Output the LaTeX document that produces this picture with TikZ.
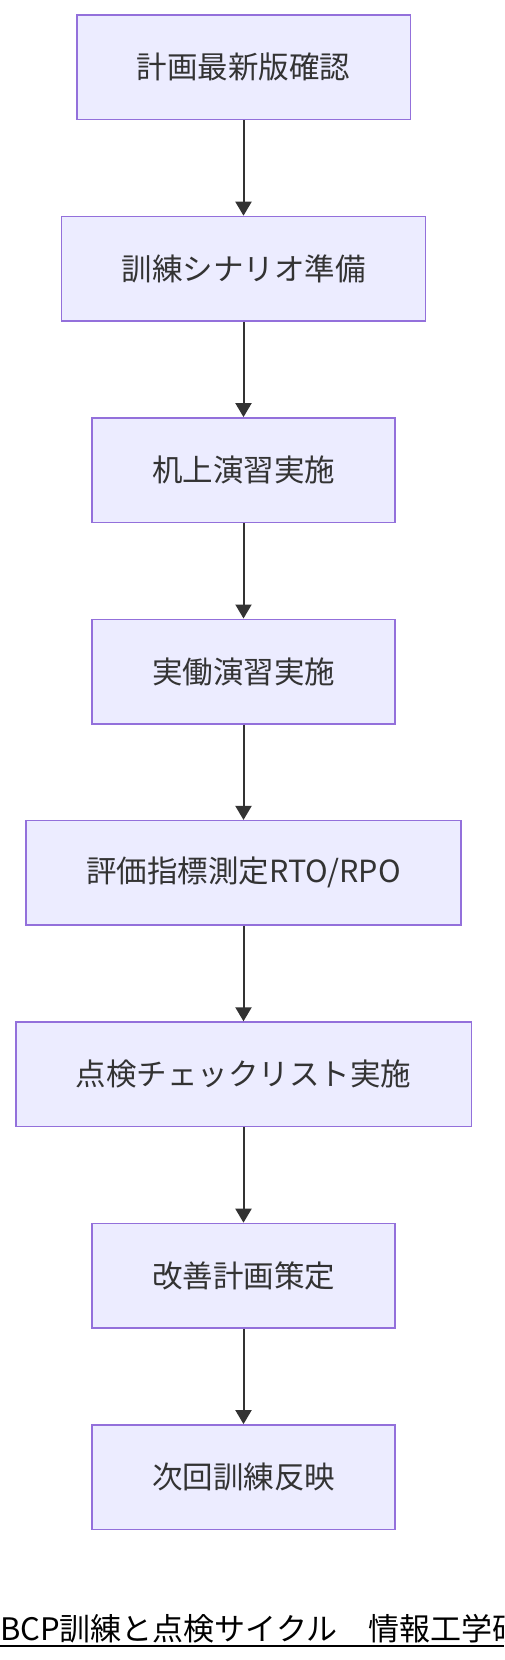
\documentclass[tikz,border=0pt]{standalone}
\usepackage{fontspec}
\setmainfont{Noto Sans CJK JP}
\usetikzlibrary{arrows.meta}
\definecolor{boxfill}{HTML}{ECECFF}
\definecolor{boxline}{HTML}{9370DB}
\definecolor{ink}{HTML}{333333}
\tikzset{
  stepbox/.style={draw=boxline, fill=boxfill, line width=1.5pt, inner xsep=60pt, inner ysep=0pt,
    minimum height=104.5pt, text=ink, font=\fontsize{30.5}{36}\selectfont},
  flow/.style={draw=ink, line width=2pt, -{Triangle[length=14pt,width=16pt]}}
}
\begin{document}
\begin{tikzpicture}[x=1pt,y=-1pt]
\useasboundingbox (0,0) rectangle (504,1660);
\node[stepbox] (n1) at (243.5,67.3) {計画最新版確認};
\node[stepbox] (n2) at (243.5,268.7) {訓練シナリオ準備};
\node[stepbox] (n3) at (243.5,470.1) {机上演習実施};
\node[stepbox] (n4) at (243.5,671.5) {実働演習実施};
\node[stepbox] (n5) at (243.5,872.9) {評価指標測定RTO/RPO};
\node[stepbox] (n6) at (243.5,1074.3) {点検チェックリスト実施};
\node[stepbox] (n7) at (243.5,1275.7) {改善計画策定};
\node[stepbox] (n8) at (243.5,1477.1) {次回訓練反映};
\foreach \a/\b in {n1/n2,n2/n3,n3/n4,n4/n5,n5/n6,n6/n7,n7/n8}
  \draw[flow] (\a.south) -- (\b.north);
\begin{scope}
\clip (0,0) rectangle (504,1660);
\node[anchor=base west, inner sep=0pt, text=black, font=\fontsize{31}{36}\selectfont] (title) at (0,1640) {BCP訓練と点検サイクル　情報工学研};
\coordinate (ul) at (0,1646);
\coordinate (ur) at (504,1646);
\draw[black, line width=2pt] (ul) -- (ur);
\end{scope}
\end{tikzpicture}
\end{document}
